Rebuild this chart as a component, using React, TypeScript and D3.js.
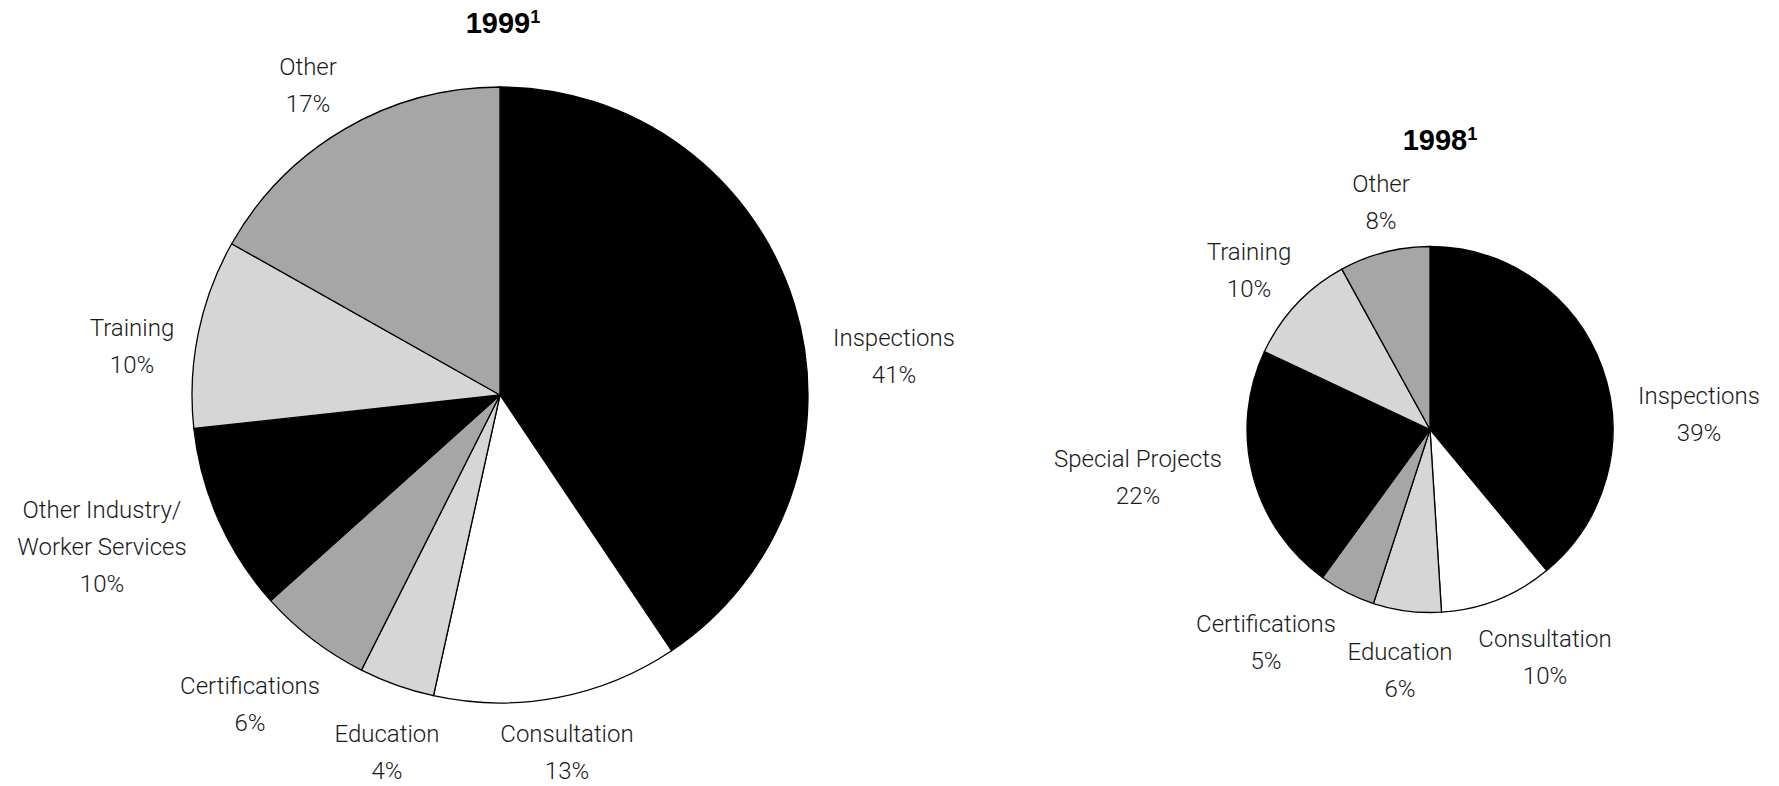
import { useMemo } from "react"
import * as d3 from "d3"

const W = 1779
const H = 786

// 1999 pie, clockwise from 12 o'clock
const categories1999 = [
  "Inspections",
  "Consultation",
  "Education",
  "Certifications",
  "Other Industry/|Worker Services",
  "Training",
  "Other",
]
const values1999 = [41, 13, 4, 6, 10, 10, 17]
const fills1999 = ["#000000", "#ffffff", "#d6d6d6", "#a6a6a6", "#000000", "#d6d6d6", "#a6a6a6"]

// 1998 pie
const categories1998 = [
  "Inspections",
  "Consultation",
  "Education",
  "Certifications",
  "Special Projects",
  "Training",
  "Other",
]
const values1998 = [39, 10, 6, 5, 22, 10, 8]
const fills1998 = ["#000000", "#ffffff", "#d6d6d6", "#a6a6a6", "#000000", "#d6d6d6", "#a6a6a6"]

// label placement (first line baseline), hand placed like the original
const labelPos1999 = [
  [894, 346],
  [567, 742],
  [387, 742],
  [250, 694],
  [102, 518],
  [132, 336],
  [308, 75],
]
const labelPos1998 = [
  [1699, 404],
  [1545, 647],
  [1400, 660],
  [1266, 632],
  [1138, 467],
  [1249, 260],
  [1381, 192],
]

const labelFont = "'Roboto', 'Liberation Sans', Arial, sans-serif"
const lineH = 37

type PieProps = {
  cx: number
  cy: number
  r: number
  title: string
  titleX: number
  titleY: number
  cats: string[]
  vals: number[]
  fills: string[]
  labelPos: number[][]
}

function Pie({ cx, cy, r, title, titleX, titleY, cats, vals, fills, labelPos }: PieProps) {
  const arcs = useMemo(() => {
    const pie = d3
      .pie<number>()
      .sort(null)
      .value((d) => d)
    return pie(vals)
  }, [vals])

  const arc = d3.arc<d3.PieArcDatum<number>>().innerRadius(0).outerRadius(r)

  return (
    <g>
      <text
        x={titleX}
        y={titleY}
        textAnchor="middle"
        fontFamily="'Liberation Sans', Arial, sans-serif"
        fontWeight="bold"
        fontSize={29}
        fill="#000"
      >
        {title}
        <tspan fontSize={18} dy={-10}>
          1
        </tspan>
      </text>
      <g transform={`translate(${cx},${cy})`}>
        {arcs.map((a, i) => (
          <path key={i} d={arc(a) || ""} fill={fills[i]} stroke="#000" strokeWidth={1.3} />
        ))}
      </g>
      {cats.map((c, i) => {
        const lines = c.split("|").concat([`${vals[i]}%`])
        const [x, y] = labelPos[i]
        return (
          <text
            key={c}
            x={x}
            y={y}
            textAnchor="middle"
            fontFamily={labelFont}
            fontWeight={300}
            fontSize={24}
            fill="#1a1a1a"
          >
            {lines.map((l, j) => (
              <tspan key={j} x={x} y={y + j * lineH}>
                {l}
              </tspan>
            ))}
          </text>
        )
      })}
    </g>
  )
}

export default function App() {
  return (
    <svg
      width={W}
      height={H}
      style={{ position: "fixed", left: 0, top: 0, background: "#fff" }}
    >
      <rect width={W} height={H} fill="#fff" />
      <Pie
        cx={500}
        cy={395}
        r={308}
        title="1999"
        titleX={503}
        titleY={33}
        cats={categories1999}
        vals={values1999}
        fills={fills1999}
        labelPos={labelPos1999}
      />
      <Pie
        cx={1430}
        cy={429.5}
        r={183}
        title="1998"
        titleX={1440}
        titleY={150}
        cats={categories1998}
        vals={values1998}
        fills={fills1998}
        labelPos={labelPos1998}
      />
    </svg>
  )
}
